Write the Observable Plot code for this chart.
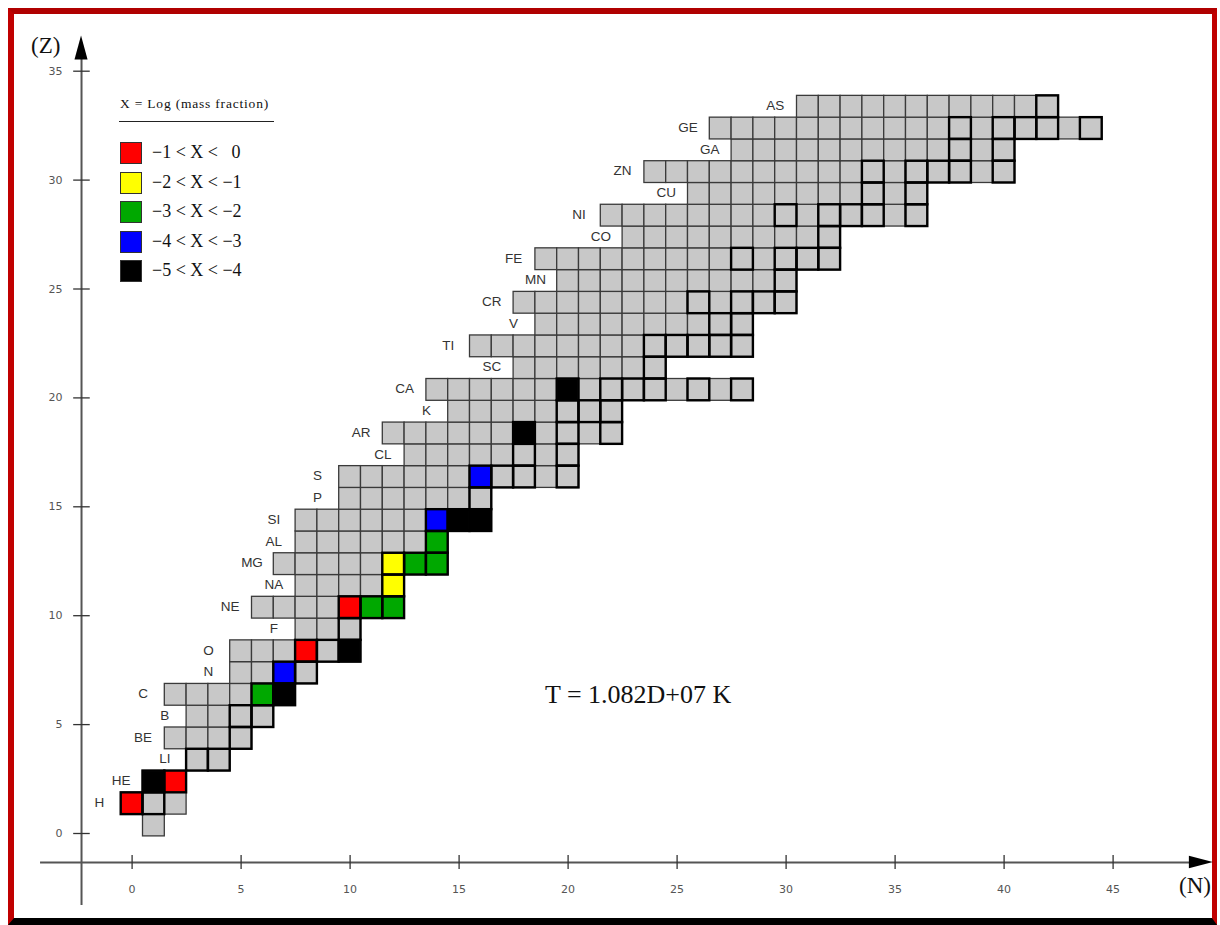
<!DOCTYPE html>
<html>
<head>
<meta charset="utf-8">
<script src="https://cdn.jsdelivr.net/npm/d3@7"></script>
<script src="https://cdn.jsdelivr.net/npm/@observablehq/plot@0.6"></script>
<style>
  html, body { margin: 0; padding: 0; background: #fff; }
  #page { position: relative; width: 1220px; height: 925px; overflow: hidden; background: #fff; }
  #chart { position: absolute; left: 0; top: 0; width: 1220px; height: 925px; }
  #border {
    position: absolute; left: 8px; top: 8px; right: 3px; bottom: 0;
    border-left: 6px solid #c00000; border-top: 6px solid #b00000;
    border-right: 5px solid #c00000; border-bottom: 7px solid #000;
    pointer-events: none;
  }
  .serif { font-family: "Liberation Serif", "Times New Roman", serif; color: #111; white-space: nowrap; }
  #legend { position: absolute; left: 119px; top: 96px; width: 170px; height: 200px; }
  #legend .title { position: absolute; left: 1px; top: 0; font-size: 13.5px; letter-spacing: 0.8px; }
  #legend .rule { position: absolute; left: 0; top: 25px; width: 155px; height: 0; border-top: 1px solid #222; }
  #legend .row { position: absolute; left: 1px; width: 160px; height: 23px; }
  #legend .sw { position: absolute; left: 0; top: 0; width: 20px; height: 20px; border: 1.3px solid #333; }
  #legend .lab { position: absolute; left: 32px; top: -1px; font-size: 18px; line-height: 23px; }
  #zlab { position: absolute; left: 31px; top: 33px; font-size: 23px; }
  #nlab { position: absolute; left: 1179px; top: 873px; font-size: 23px; }
  #temp { position: absolute; left: 545px; top: 680px; font-size: 26px; }
</style>
</head>
<body>
<div id="page">
  <div id="border"></div>
  <div id="chart"></div>
  <div id="legend" class="serif"></div>
  <div id="zlab" class="serif">(Z)</div>
  <div id="nlab" class="serif">(N)</div>
  <div id="temp" class="serif">T = 1.082D+07 K</div>
</div>
<script>
// Element symbol for each proton number Z (index = Z; Z = 0 is the free neutron)
const symbols = ["", "H", "HE", "LI", "BE", "B", "C", "N", "O", "F", "NE", "NA", "MG", "AL", "SI", "P", "S",
  "CL", "AR", "K", "CA", "SC", "TI", "V", "CR", "MN", "FE", "CO", "NI", "CU", "ZN", "GA", "GE", "AS"];
// Lightest and heaviest neutron number in the network for each Z
const nFirst = [1, 0, 1, 3, 2, 3, 2, 5, 5, 8, 6, 8, 7, 8, 8, 10, 10, 13, 12, 15, 14, 18, 16, 19, 18, 20, 19, 23, 22, 26, 24, 28, 27, 31];
const nLast  = [1, 2, 2, 4, 5, 6, 7, 8, 10, 10, 12, 12, 14, 14, 16, 16, 20, 20, 22, 22, 28, 24, 28, 28, 30, 30, 32, 32, 36, 36, 40, 40, 44, 42];
// Stable isotopes (outlined), listed by neutron number for each Z
const stableN = [[], [0, 1], [1, 2], [3, 4], [5], [5, 6], [6, 7], [7, 8], [8, 9, 10], [10], [10, 11, 12], [12],
  [12, 13, 14], [14], [14, 15, 16], [16], [16, 17, 18, 20], [18, 20], [18, 20, 22], [20, 21, 22],
  [20, 22, 23, 24, 26, 28], [24], [24, 25, 26, 27, 28], [27, 28], [26, 28, 29, 30], [30], [28, 30, 31, 32], [32],
  [30, 32, 33, 34, 36], [34, 36], [34, 36, 37, 38, 40], [38, 40], [38, 40, 41, 42, 44], [42]];
// Abundant isotopes: [Z, N, mass-fraction class]
const abundant = [
  [1, 0, 0], [2, 1, 4], [2, 2, 0], [6, 6, 2], [6, 7, 4], [7, 7, 3], [8, 8, 0], [8, 10, 4],
  [10, 10, 0], [10, 11, 2], [10, 12, 2], [11, 12, 1], [12, 12, 1], [12, 13, 2], [12, 14, 2],
  [13, 14, 2], [14, 14, 3], [14, 15, 4], [14, 16, 4], [16, 16, 3], [18, 18, 4], [20, 20, 4]
];
// Mass-fraction classes, X = log10(mass fraction)
const classLabels = ["\u22121 < X < \u20020", "\u22122 < X < \u22121", "\u22123 < X < \u22122", "\u22124 < X < \u22123", "\u22125 < X < \u22124"];
const classColors = ["#ff0000", "#ffff00", "#00a800", "#0000ff", "#000000"];
const nTicks = [0, 5, 10, 15, 20, 25, 30, 35, 40, 45];
const zTicks = [0, 5, 10, 15, 20, 25, 30, 35];

const cellFill = "#c8c8c8";
const AXIS_Z = -1.7;   // height of the N axis line (in Z units)
const AXIS_N = -2.32;  // position of the Z axis line (in N units)
const TICK_SHIFT = 8;  // Z tick marks sit slightly below the cell rows

const classOf = new Map(abundant.map(([z, n, c]) => [z + ":" + n, c]));
const cells = [];
const rows = [];
symbols.forEach((sym, z) => {
  for (let n = nFirst[z]; n <= nLast[z]; n++) {
    cells.push({ z, n, cls: classOf.get(z + ":" + n), stable: stableN[z].includes(n) });
  }
  if (sym) rows.push({ z, sym, n0: nFirst[z] });
});

const box = {
  x1: d => d.n - 0.5, x2: d => d.n + 0.5,
  y1: d => d.z - 0.5, y2: d => d.z + 0.5
};

const plot = Plot.plot({
  width: 1220,
  height: 925,
  margin: 0,
  x: { domain: [0, 45], range: [131.6, 1112.6] },
  y: { domain: [0, 35], range: [825, 62.7] },
  style: { background: "transparent" },
  marks: [
    // axis lines with arrowheads
    Plot.ruleY([AXIS_Z], { x1: -4.2, x2: 48.8, stroke: "#555", strokeWidth: 2 }),
    Plot.ruleX([AXIS_N], { y1: -3.67, y2: 35.3, stroke: "#555", strokeWidth: 2 }),
    Plot.areaY([{ x: 48.5, a: AXIS_Z - 0.29, b: AXIS_Z + 0.29 }, { x: 49.6, a: AXIS_Z, b: AXIS_Z }],
      { x: "x", y1: "a", y2: "b", fill: "#000" }),
    Plot.areaX([{ y: 35.15, a: AXIS_N - 0.3, b: AXIS_N + 0.3 }, { y: 36.25, a: AXIS_N, b: AXIS_N }],
      { y: "y", x1: "a", x2: "b", fill: "#000" }),
    // N ticks
    Plot.ruleX(nTicks, { x: d => d, y1: AXIS_Z + 0.32, y2: AXIS_Z - 0.32, stroke: "#333", strokeWidth: 1.3 }),
    Plot.text(nTicks, { x: d => d, y: AXIS_Z, dy: 27, text: d => String(d), fontSize: 11,
      fontFamily: "DejaVu Sans", fill: "#555" }),
    // Z ticks
    Plot.ruleY(zTicks, { y: d => d, x1: AXIS_N - 0.36, x2: AXIS_N + 0.4, dy: TICK_SHIFT, stroke: "#333", strokeWidth: 1.3 }),
    Plot.text(zTicks, { x: AXIS_N, y: d => d, dx: -19, dy: TICK_SHIFT, text: d => String(d), textAnchor: "end",
      fontSize: 11, fontFamily: "DejaVu Sans", fill: "#555" }),
    // isotope cells
    Plot.rect(cells, { ...box, fill: d => d.cls === undefined ? cellFill : classColors[d.cls],
      stroke: "#3a3a3a", strokeWidth: 1.3 }),
    Plot.rect(cells.filter(d => d.stable), { ...box, fill: "none", stroke: "#000", strokeWidth: 2.4 }),
    // element names
    Plot.text(rows, { x: d => d.n0 - 1.5, y: "z", text: "sym", fontSize: 13.5, fontFamily: "Liberation Sans",
      fill: "#333", dy: -1 })
  ]
});
document.getElementById("chart").appendChild(plot);

// Legend: mass-fraction classes
const legend = d3.select("#legend");
legend.append("div").attr("class", "title").text("X = Log (mass fraction)");
legend.append("div").attr("class", "rule");
classLabels.forEach((lab, i) => {
  const row = legend.append("div").attr("class", "row").style("top", (46 + i * 29.6) + "px");
  row.append("div").attr("class", "sw").style("background", classColors[i]);
  row.append("div").attr("class", "lab").text(lab);
});
</script>
</body>
</html>
